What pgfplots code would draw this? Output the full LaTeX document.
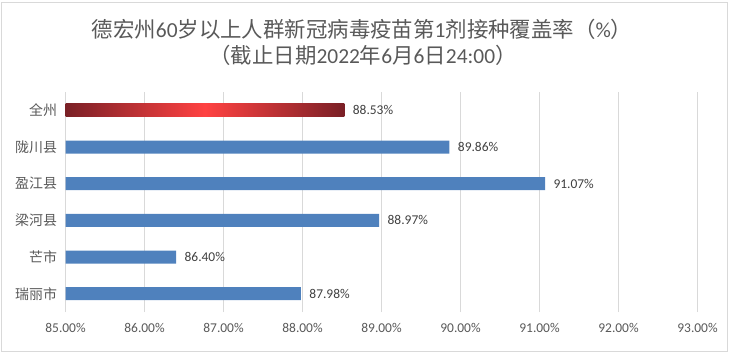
\documentclass[border=0pt]{standalone}
\usepackage{pgfplots}
\usepackage{pgfplotstable}
\pgfplotsset{compat=1.18}
\usepackage{fontspec}
\setmainfont{Carlito}
\newfontfamily\cjk{Noto Sans CJK SC}
\definecolor{barblue}{RGB}{79,129,189}
\definecolor{darkred}{RGB}{122,32,38}
\definecolor{brightred}{RGB}{255,66,66}
\definecolor{gridgray}{RGB}{217,217,217}
\definecolor{titlegray}{RGB}{89,89,89}
\definecolor{labelgray}{RGB}{64,64,64}

\pgfplotstableread{
y v
4 89.86
3 91.07
2 88.97
1 86.40
0 87.98
}\countydata
\pgfplotstableread{
y v
5 88.53
}\totaldata

\begin{document}
\begin{tikzpicture}[x=1bp,y=1bp]
\useasboundingbox (0,0) rectangle (729,354);
\draw[gridgray, line width=0.8bp] (1.5,2.5) rectangle (727.5,351.5);
\node[text=titlegray, font=\fontsize{21.5}{25}\selectfont, inner sep=0pt] at (362,325)
  {{\cjk 德宏州}60{\cjk 岁以上人群新冠病毒疫苗第}1{\cjk 剂接种覆盖率（}\%{\cjk ）}};
\node[text=titlegray, font=\fontsize{21.5}{25}\selectfont, inner sep=0pt] at (363,298.5)
  {{\cjk （截止日期}2022{\cjk 年}6{\cjk 月}6{\cjk 日}24:00{\cjk ）}};
\begin{axis}[
  at={(65.5bp,42bp)}, anchor=south west,
  scale only axis, width=632bp, height=220bp,
  xmin=0, xmax=8, ymin=-0.5, ymax=5.5,
  xbar, bar width=13bp, bar shift=0pt,
  axis line style={draw=none},
  major tick length=0pt,
  xmajorgrids, major grid style={gridgray, line width=0.8bp},
  xtick={0,1,2,3,4,5,6,7,8},
  xticklabels={85.00\%,86.00\%,87.00\%,88.00\%,89.00\%,90.00\%,91.00\%,92.00\%,93.00\%},
  xticklabel style={font=\fontsize{13.5}{16}\selectfont, text=titlegray, yshift=-8bp},
  ytick={0,1,2,3,4,5},
  yticklabels={瑞丽市,芒市,梁河县,盈江县,陇川县,全州},
  yticklabel style={font=\cjk\fontsize{14}{16}\selectfont, text=titlegray, xshift=-5bp},
  point meta=explicit,
  /pgf/number format/assume math mode=true,
  nodes near coords={\pgfmathprintnumber[fixed,fixed zerofill,precision=2,assume math mode=true]{\pgfplotspointmeta}\%},
  every node near coord/.append style={font=\fontsize{13.5}{16}\selectfont, text=labelgray, anchor=west, xshift=5bp},
  clip=false,
]
\addplot[fill=barblue, draw=none] table[x expr=\thisrow{v}-85, y=y, meta=v] {\countydata};
\addplot[draw=none, left color=darkred, right color=darkred, middle color=brightred] table[x expr=\thisrow{v}-85, y=y, meta=v] {\totaldata};
\end{axis}
\end{tikzpicture}
\end{document}
